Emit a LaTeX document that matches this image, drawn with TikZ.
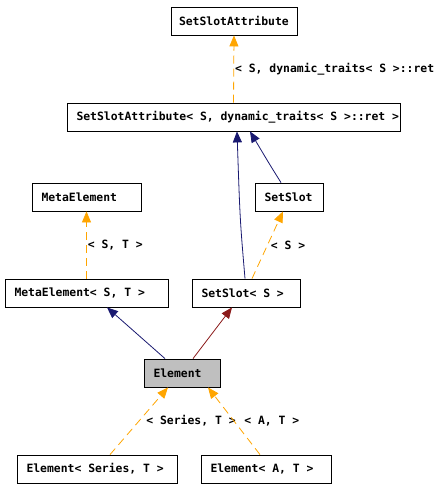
\documentclass[tikz,border=0pt]{standalone}
\usepackage{fontspec}
\setmonofont{DejaVu Sans Mono}
\usetikzlibrary{arrows.meta}
\definecolor{navyedge}{HTML}{191970}
\definecolor{rededge}{HTML}{8B1A1A}
\definecolor{tmpledge}{HTML}{FFA500}
\definecolor{curfill}{HTML}{BFBFBF}
\newcommand{\lefttext}[2]{\makebox[#1][l]{#2}}
\begin{document}
\begin{tikzpicture}[
        x=1pt, y=-1pt,
        box/.style={rectangle, draw, line width=0.8pt, minimum height=28pt, inner xsep=9.5pt,
            font=\ttfamily\bfseries\fontsize{11.4}{12}\selectfont},
        lbl/.style={anchor=west, inner sep=1pt, text=black,
            font=\ttfamily\bfseries\fontsize{11.4}{12}\selectfont},
        arrow/.style={-{Triangle[length=11pt,width=9pt]}, line width=0.8pt},
        pub/.style={arrow, navyedge},
        prot/.style={arrow, rededge},
        tmpl/.style={arrow, tmpledge, dash pattern=on 8pt off 5pt}
    ]
        \useasboundingbox (0,0) rectangle (443,487);

        \node[box, inner xsep=8pt] (ssa) at (234,21) {\lefttext{110pt}{SetSlotAttribute}};
        \node[box] (ssainst) at (233.5,117) {\lefttext{314pt}{SetSlotAttribute< S, dynamic\_traits< S >::ret >}};
        \node[box] (meta) at (86.5,197) {\lefttext{90pt}{MetaElement}};
        \node[box] (setslot) at (289,197) {\lefttext{49pt}{SetSlot}};
        \node[box] (metainst) at (86.5,293) {\lefttext{144pt}{MetaElement< S, T >}};
        \node[box] (setslotinst) at (246,293) {\lefttext{89pt}{SetSlot< S >}};
        \node[box, fill=curfill] (element) at (182,373) {\lefttext{57pt}{Element}};
        \node[box] (elemseries) at (97,469) {\lefttext{141pt}{Element< Series, T >}};
        \node[box] (elema) at (266,469) {\lefttext{111pt}{Element< A, T >}};

        \draw[tmpl] (ssainst.north) -- node[lbl] {< S, dynamic\_traits< S >::ret} (ssa.south);
        \draw[pub] ([xshift=-1pt]setslotinst.north) .. controls (240,220) .. ([xshift=3.5pt]ssainst.south);
        \draw[pub] ([xshift=-8pt]setslot.north) .. controls (270,165) .. ([xshift=16.5pt]ssainst.south);
        \draw[tmpl] (metainst.north) -- node[lbl] {< S, T >} (meta.south);
        \draw[tmpl] ([xshift=6pt]setslotinst.north) -- node[lbl, xshift=2pt] {< S >} ([xshift=-6pt]setslot.south);
        \draw[pub] ([xshift=-17pt]element.north) -- ([xshift=20.5pt]metainst.south);
        \draw[prot] ([xshift=11pt]element.north) -- ([xshift=-14pt]setslotinst.south);
        \draw[tmpl] ([xshift=13pt]elemseries.north) -- node[lbl, xshift=6pt] {< Series, T >} ([xshift=-14pt]element.south);
        \draw[tmpl] ([xshift=-6pt]elema.north) -- node[lbl, xshift=9pt] {< A, T >} ([xshift=26pt]element.south);
    \end{tikzpicture}
\end{document}
